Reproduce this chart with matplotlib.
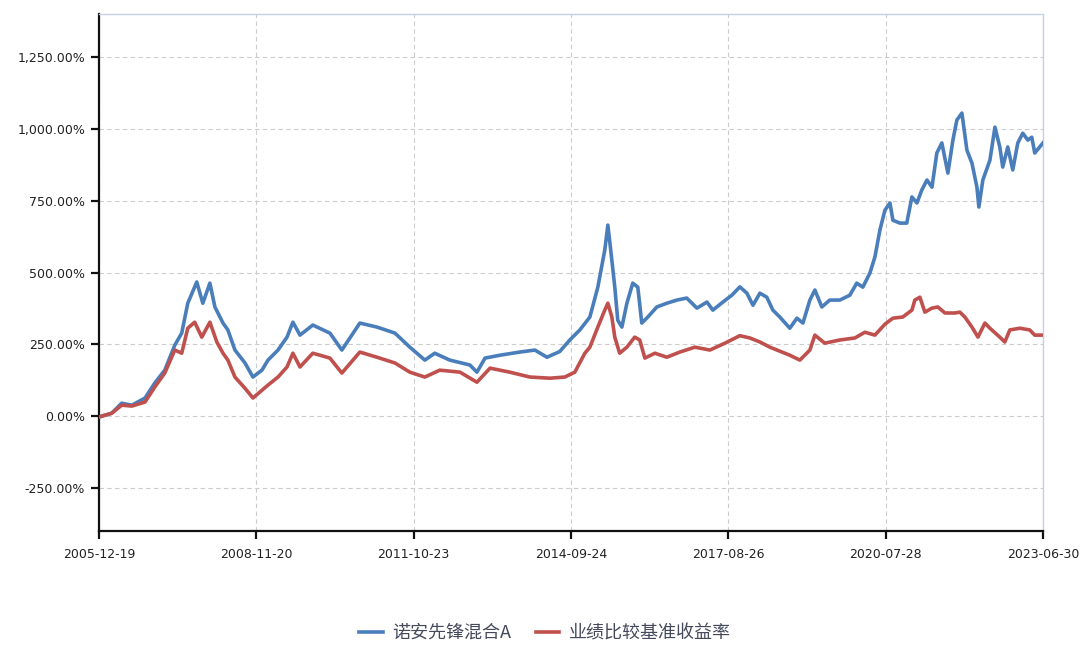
import matplotlib
matplotlib.use("Agg")
import matplotlib.pyplot as plt
import matplotlib.dates as mdates
from matplotlib.ticker import FixedLocator, FuncFormatter
import pandas as pd

plt.rcParams['font.family'] = ['Noto Sans CJK SC', 'DejaVu Sans']

series_names = ["诺安先锋混合A", "业绩比较基准收益率"]

fund_dates = [
    "2005-12-19", "2006-03-15", "2006-05-22", "2006-07-30", "2006-10-27", "2007-01-01",
    "2007-03-10", "2007-05-17", "2007-07-03", "2007-08-13", "2007-10-13", "2007-11-23",
    "2008-01-10", "2008-02-13", "2008-04-08", "2008-05-11", "2008-06-28", "2008-09-04",
    "2008-10-28", "2008-12-28", "2009-02-07", "2009-04-16", "2009-06-16", "2009-07-26",
    "2009-09-12", "2009-12-08", "2010-04-03", "2010-06-23", "2010-10-23", "2011-02-16",
    "2011-06-18", "2011-09-27", "2012-01-07", "2012-03-14", "2012-06-24", "2012-11-07",
    "2012-12-25", "2013-02-18", "2013-05-30", "2013-10-12", "2014-01-22", "2014-04-14",
    "2014-07-10", "2014-09-16", "2014-11-23", "2015-01-30", "2015-03-25", "2015-05-11",
    "2015-06-01", "2015-06-28", "2015-07-18", "2015-08-07", "2015-09-04", "2015-10-08",
    "2015-11-17", "2015-12-21", "2016-01-17", "2016-02-27", "2016-04-28", "2016-07-05",
    "2016-09-11", "2016-11-17", "2017-01-25", "2017-04-03", "2017-05-13", "2017-07-20",
    "2017-09-19", "2017-11-12", "2017-12-30", "2018-02-09", "2018-03-28", "2018-05-14",
    "2018-06-24", "2018-08-10", "2018-10-17", "2018-12-04", "2019-01-14", "2019-03-02",
    "2019-04-05", "2019-05-22", "2019-07-15", "2019-09-21", "2019-11-28", "2020-01-14",
    "2020-02-24", "2020-04-12", "2020-05-16", "2020-06-19", "2020-07-23", "2020-08-26",
    "2020-09-15", "2020-11-01", "2020-12-18", "2021-01-22", "2021-02-25", "2021-03-30",
    "2021-05-04", "2021-06-07", "2021-07-10", "2021-08-13", "2021-09-23", "2021-10-27",
    "2021-11-23", "2021-12-27", "2022-01-30", "2022-03-05", "2022-04-08", "2022-04-21",
    "2022-05-18", "2022-07-05", "2022-08-08", "2022-09-10", "2022-09-30", "2022-11-03",
    "2022-12-07", "2023-01-10", "2023-02-13", "2023-03-19", "2023-04-15", "2023-05-05",
    "2023-06-30",
]
fund_values = [
    -3, 10, 45, 38, 63, 115,
    160, 247, 289, 393, 467, 393,
    463, 380, 324, 300, 230, 185,
    136, 160, 195, 230, 275, 327,
    282, 317, 289, 230, 324, 310,
    289, 240, 195, 219, 195, 178,
    153, 202, 212, 223, 230, 205,
    225, 265, 300, 345, 449, 578,
    665, 543, 449, 334, 310, 393,
    463, 449, 324, 345, 380, 393,
    404, 411, 376, 397, 369, 397,
    421, 450, 428, 386, 428, 414,
    369, 345, 306, 341, 324, 404,
    439, 380, 404, 404, 421, 463,
    449, 498, 554, 648, 717, 742,
    682, 672, 672, 763, 742, 787,
    822, 797, 916, 951, 846, 961,
    1031, 1055, 926, 881, 797, 728,
    822, 891, 1006, 937, 867, 937,
    857, 951, 985, 961, 971, 916,
    951,
]

bench_dates = [
    "2005-12-19", "2006-03-15", "2006-05-22", "2006-07-30", "2006-10-27", "2007-01-01",
    "2007-03-10", "2007-05-17", "2007-07-03", "2007-08-13", "2007-09-29", "2007-11-16",
    "2008-01-10", "2008-02-26", "2008-04-08", "2008-05-11", "2008-06-28", "2008-09-04",
    "2008-10-28", "2008-12-28", "2009-02-07", "2009-04-16", "2009-06-16", "2009-07-26",
    "2009-09-12", "2009-12-08", "2010-04-03", "2010-06-23", "2010-10-23", "2011-02-16",
    "2011-06-18", "2011-09-27", "2012-01-07", "2012-04-17", "2012-09-01", "2012-12-25",
    "2013-03-24", "2013-08-05", "2013-12-19", "2014-05-04", "2014-08-13", "2014-10-20",
    "2014-12-27", "2015-01-30", "2015-03-25", "2015-05-11", "2015-06-01", "2015-06-28",
    "2015-07-18", "2015-08-20", "2015-10-08", "2015-11-30", "2016-01-03", "2016-02-07",
    "2016-04-15", "2016-07-05", "2016-10-01", "2017-01-11", "2017-04-23", "2017-08-03",
    "2017-11-12", "2018-01-19", "2018-03-28", "2018-06-04", "2018-10-17", "2018-12-24",
    "2019-03-02", "2019-04-05", "2019-06-11", "2019-09-21", "2020-01-01", "2020-03-09",
    "2020-05-16", "2020-07-23", "2020-09-15", "2020-11-21", "2021-01-22", "2021-02-11",
    "2021-03-17", "2021-04-20", "2021-06-07", "2021-07-17", "2021-09-03", "2021-11-09",
    "2021-12-13", "2022-01-16", "2022-03-05", "2022-04-15", "2022-06-01", "2022-07-05",
    "2022-09-10", "2022-10-14", "2022-11-17", "2023-01-24", "2023-04-01", "2023-05-05",
    "2023-06-30",
]
bench_values = [
    -3, 10, 38, 35, 49, 101,
    150, 230, 219, 306, 327, 275,
    327, 258, 219, 195, 136, 97,
    63, 90, 108, 136, 171, 219,
    171, 219, 202, 150, 223, 205,
    185, 153, 136, 160, 153, 118,
    167, 153, 136, 132, 136, 153,
    219, 240, 310, 369, 393, 345,
    275, 219, 240, 275, 265, 202,
    219, 205, 223, 240, 230, 254,
    280, 272, 258, 240, 212, 195,
    230, 282, 254, 265, 272, 292,
    282, 320, 341, 345, 369, 404,
    414, 362, 376, 380, 359, 359,
    362, 345, 310, 275, 324, 306,
    275, 258, 300, 306, 300, 282,
    282,
]

tick_labels = ["2005-12-19", "2008-11-20", "2011-10-23", "2014-09-24",
               "2017-08-26", "2020-07-28", "2023-06-30"]
y_ticks = [-250, 0, 250, 500, 750, 1000, 1250]

fig = plt.figure(figsize=(10.85, 6.46), dpi=100)
ax = fig.add_axes([99 / 1085, 1 - 531 / 646, (1043 - 99) / 1085, (531 - 14) / 646])

blue = "#4a7ebb"
red = "#c0504d"
ax.plot(pd.to_datetime(fund_dates), fund_values, color=blue, lw=2.6,
        label=series_names[0], solid_joinstyle="round", zorder=3)
ax.plot(pd.to_datetime(bench_dates), bench_values, color=red, lw=2.6,
        label=series_names[1], solid_joinstyle="round", zorder=4)

tick_dates = pd.to_datetime(tick_labels)
ax.set_xlim(tick_dates[0], tick_dates[-1])
ax.set_ylim(-400, 1400)
ax.xaxis.set_major_locator(FixedLocator(mdates.date2num(tick_dates)))
ax.set_xticklabels(tick_labels)
ax.yaxis.set_major_locator(FixedLocator(y_ticks))
ax.yaxis.set_major_formatter(FuncFormatter(lambda v, p: f"{v:,.2f}%"))

ax.grid(True, color="#cccccc", linestyle=(0, (4, 3)), linewidth=0.8)
ax.set_axisbelow(True)

for s in ["left", "bottom"]:
    ax.spines[s].set_color("#111111")
    ax.spines[s].set_linewidth(1.6)
for s in ["top", "right"]:
    ax.spines[s].set_color("#c5d0e6")
    ax.spines[s].set_linewidth(1.0)

ax.tick_params(axis="both", direction="out", length=6, width=1.6, color="#111111",
               labelsize=9, labelcolor="#222222", pad=4)
for lab in ax.get_xticklabels() + ax.get_yticklabels():
    lab.set_family("DejaVu Sans")
ax.tick_params(axis="x", pad=6)

leg = fig.legend(loc="center", bbox_to_anchor=(545 / 1085, 1 - 633 / 646), ncol=2,
                 frameon=False, fontsize=13, handlelength=1.28, handletextpad=0.55,
                 columnspacing=1.33)
for t in leg.get_texts():
    t.set_color("#444a5a")

fig.savefig("out.png", dpi=100)
